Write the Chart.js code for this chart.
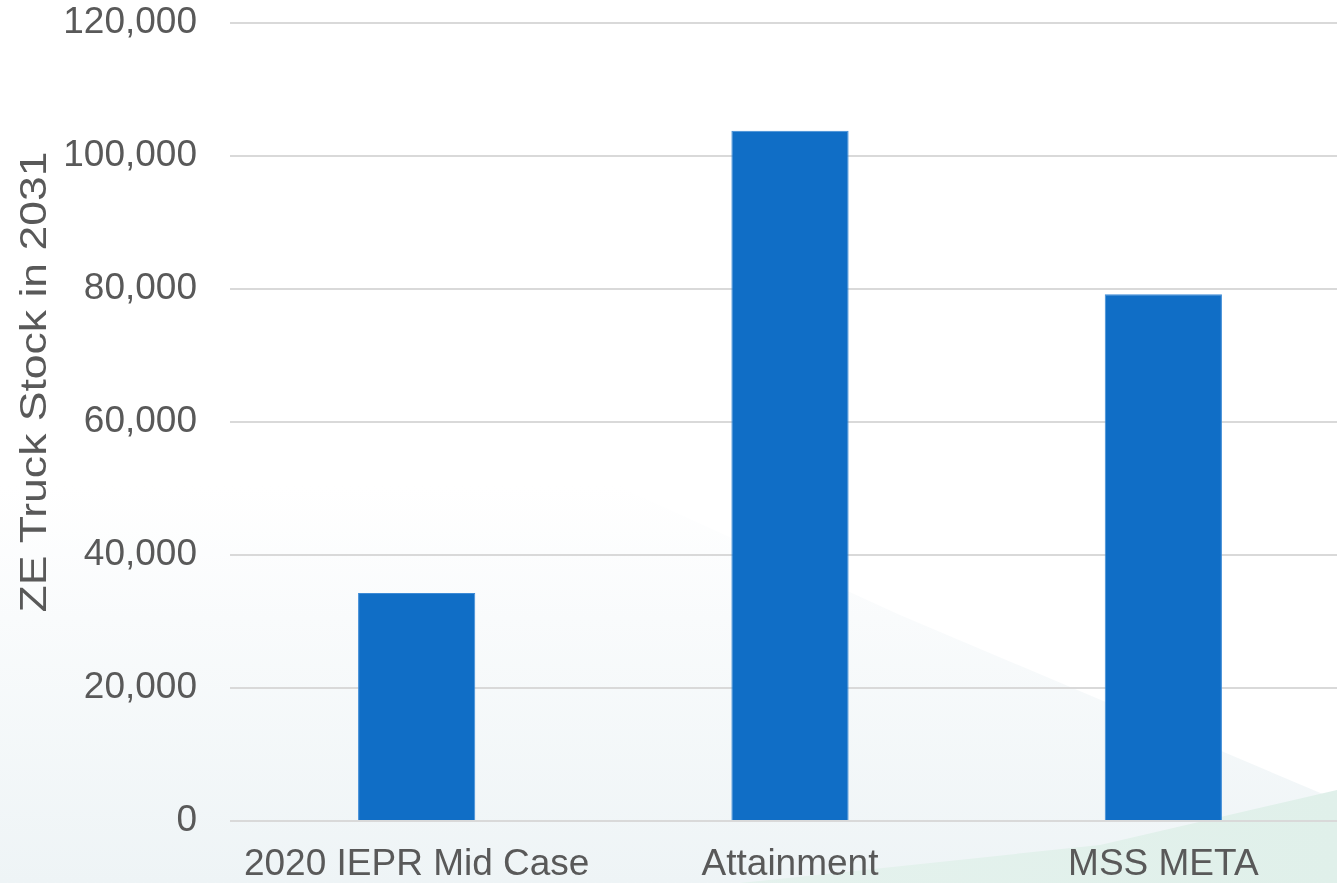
<!DOCTYPE html>
<html>
<head>
<meta charset="utf-8">
<script src="https://cdn.jsdelivr.net/npm/chart.js@4/dist/chart.umd.min.js"></script>
<style>
  html, body { margin: 0; padding: 0; }
  body { width: 1337px; height: 883px; overflow: hidden; position: relative; background: #ffffff; }
  .bg-soft {
    position: absolute; left: 0; top: 0; width: 1337px; height: 883px;
    background: linear-gradient(to bottom, #ffffff 0%, #ffffff 55%, #f9fbfc 70%, #eef4f6 100%);
    clip-path: polygon(0 0, 380px 0, 450px 380px, 633px 493px, 900px 615px, 1337px 800px, 1337px 883px, 0 883px);
  }
  .bg-green {
    position: absolute; left: 0; top: 0; width: 1337px; height: 883px;
    background: linear-gradient(to right, rgba(232,244,239,0.6) 0%, #e0f0ea 100%);
    clip-path: polygon(740px 883px, 1100px 845px, 1337px 790px, 1337px 883px);
  }
  #wrap { position: absolute; left: 0; top: 0; width: 1350px; height: 883px; }
</style>
</head>
<body>
<div class="bg-soft"></div>
<div class="bg-green"></div>
<div id="wrap"><canvas id="c" width="1350" height="883"></canvas></div>
<script>
// ZE truck stock projected for 2031 by scenario
const categories = ['2020 IEPR Mid Case', 'Attainment', 'MSS META'];
const truckStock = [34300, 103800, 79200];
const yTicks = [0, 20000, 40000, 60000, 80000, 100000, 120000];
const yTitle = 'ZE Truck Stock in 2031';

const FONT = '"Liberation Sans", Arial, sans-serif';
const TEXT = '#595959';

// Rotated, slightly stretched axis title drawn beside the value ticks
const axisTitlePlugin = {
  id: 'axisTitle',
  afterDraw(chart) {
    const { ctx, chartArea } = chart;
    const size = 37;
    const targetLen = 461;
    ctx.save();
    ctx.font = size + 'px ' + FONT;
    ctx.fillStyle = TEXT;
    ctx.textAlign = 'center';
    ctx.textBaseline = 'middle';
    const w = ctx.measureText(yTitle).width;
    const cy = (chartArea.top + chartArea.bottom) / 2 - 40;
    ctx.translate(36, cy);
    ctx.rotate(-Math.PI / 2);
    ctx.scale(targetLen / w, 1);
    ctx.fillText(yTitle, 0, 0);
    ctx.restore();
  }
};

new Chart(document.getElementById('c'), {
  type: 'bar',
  data: {
    labels: categories,
    datasets: [{
      data: truckStock,
      backgroundColor: '#106ec6',
      borderColor: '#3d8bd6',
      borderWidth: 1,
      borderSkipped: 'bottom',
      categoryPercentage: 1,
      barPercentage: 0.314
    }]
  },
  options: {
    responsive: false,
    animation: false,
    events: [],
    layout: { padding: 0 },
    plugins: { legend: { display: false }, tooltip: { enabled: false } },
    scales: {
      x: {
        grid: { display: false, drawTicks: false },
        border: { display: false },
        afterFit(scale) { scale.height = 62; scale.paddingLeft = 0; scale.paddingRight = 0; },
        ticks: {
          color: TEXT,
          padding: 22,
          maxRotation: 0,
          font: { family: FONT, size: 37 }
        }
      },
      y: {
        min: yTicks[0],
        max: yTicks[yTicks.length - 1],
        afterBuildTicks(scale) { scale.ticks = yTicks.map(v => ({ value: v })); },
        afterFit(scale) { scale.width = 230; scale.paddingTop = 23; scale.paddingBottom = 0; },
        grid: { color: '#d9d9d9', lineWidth: 2, drawTicks: false },
        border: { display: false },
        ticks: {
          color: TEXT,
          padding: 33,
          font: { family: FONT, size: 37 },
          callback: v => Number(v).toLocaleString('en-US')
        }
      }
    }
  },
  plugins: [axisTitlePlugin]
});
</script>
</body>
</html>
